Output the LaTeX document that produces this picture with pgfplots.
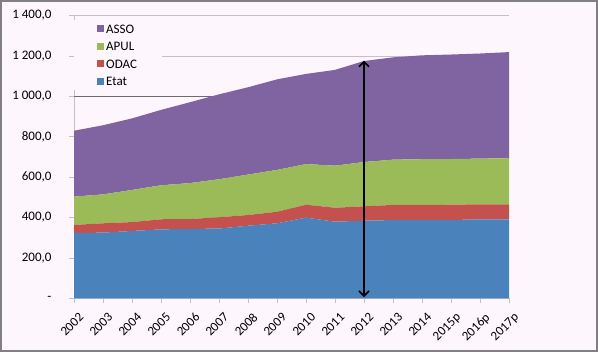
\documentclass[border=0pt]{standalone}
\usepackage{fontspec}
\setmainfont{Carlito}
\usepackage{pgfplots}
\usepackage{pgfplotstable}
\pgfplotsset{compat=1.18}
\usetikzlibrary{arrows.meta}
\definecolor{bg}{HTML}{FDF7FD}
\definecolor{etat}{HTML}{4A82BC}
\definecolor{odac}{HTML}{C4514D}
\definecolor{apul}{HTML}{9BBB59}
\definecolor{asso}{HTML}{8064A2}
\definecolor{gridc}{HTML}{C4C0C4}
\pgfplotstableread{
x etat odac apul asso
0 322 41 140 326
1 325 46 143 342
2 333 44 159 354
3 341 50 168 373
4 343 49 178 400
5 345 56 188 420
6 359 53 200 432
7 371 57 207 448
8 399 64 201 446
9 379 69 208 474
10 384 71 219 500
11 387 75 224 506
12 387 75 226 514
13 387 76 226 517
14 391 74 226 520
15 391 74 228 525
}\data
\begin{document}
\fontsize{13bp}{15bp}\selectfont
\begin{tikzpicture}
\fill[bg] (0,0) rectangle (598bp,352bp);
\draw[gray, line width=2bp] (1bp,1bp) rectangle (597bp,351bp);
\useasboundingbox (0,0) rectangle (598bp,352bp);
\begin{axis}[
  at={(74bp,53.7bp)}, anchor=south west,
  scale only axis, width=435bp, height=283bp,
  xmin=0, xmax=15, ymin=0, ymax=1400,
  stack plots=y,
  axis lines=left,
  axis line style={-, draw=gridc},
  xtick={0,...,15},
  xticklabels={2002,2003,2004,2005,2006,2007,2008,2009,2010,2011,2012,2013,2014,2015p,2016p,2017p},
  ytick={0,200,...,1400},
  yticklabels={{-\hspace{9bp}},{200,0},{400,0},{600,0},{800,0},{1 000,0},{1 200,0},{1 400,0}},
  extra y ticks={1000},
  extra y tick labels={},
  extra y tick style={grid style={draw=gray!85!black}},
  tick align=outside,
  major tick length=5bp,
  tick style={draw=gridc},
  ymajorgrids,
  grid style={draw=gridc},
  xticklabel style={rotate=45, anchor=north east, inner sep=1bp, xshift=-2bp, yshift=-8bp, font=\fontsize{13bp}{15bp}\selectfont},
  yticklabel style={anchor=east, xshift=-13bp, font=\fontsize{13bp}{15bp}\selectfont},
  reverse legend,
  legend cell align=left,
  legend image code/.code={\fill[#1] (0bp,-3.5bp) rectangle (7bp,3.5bp);},
  legend style={at={(0,0.983)}, anchor=north west, fill=bg, draw=none,
    inner xsep=23bp, inner ysep=4bp, row sep=8.5bp,
    font=\fontsize{13bp}{15bp}\selectfont,
    nodes={inner xsep=2bp, inner ysep=0bp, text height=9bp, text depth=0bp}},
]
\addplot[fill=etat, draw=none] table[x=x,y=etat]{\data} \closedcycle;
\addlegendentry{Etat}
\addplot[fill=odac, draw=none] table[x=x,y=odac]{\data} \closedcycle;
\addlegendentry{ODAC}
\addplot[fill=apul, draw=none] table[x=x,y=apul]{\data} \closedcycle;
\addlegendentry{APUL}
\addplot[fill=asso, draw=none] table[x=x,y=asso]{\data} \closedcycle;
\addlegendentry{ASSO}
\coordinate (arrB) at (axis cs:10,6);
\coordinate (arrT) at (axis cs:10,1176);
\end{axis}
\draw[{Straight Barb[length=5bp,width=10bp]}-{Straight Barb[length=5bp,width=10bp]}, line width=1.6bp, black] (arrB) -- (arrT);
\end{tikzpicture}
\end{document}
